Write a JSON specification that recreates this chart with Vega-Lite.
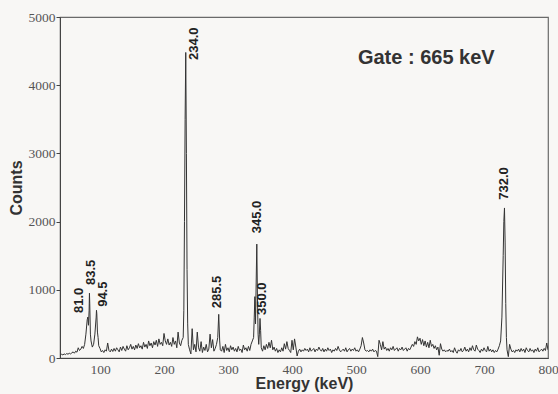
{
  "$schema": "https://vega.github.io/schema/vega-lite/v6.json",
  "width": 488,
  "height": 341,
  "autosize": {"type": "none"},
  "padding": {"left": 60, "top": 17, "right": 10, "bottom": 36},
  "background": "#f8f7f5",
  "config": {
    "view": {"stroke": "#6a6a6a", "strokeWidth": 1.2},
    "axis": {"grid": false, "domainColor": "#444", "tickColor": "#444", "labelFont": "Liberation Serif", "labelFontSize": 13.5, "labelColor": "#555", "titleFont": "Liberation Sans", "titleFontWeight": "bold", "titleColor": "#333"}
  },
  "datasets": {
    "spec": [
      {"e":38,"c":40},{"e":40,"c":55},{"e":42,"c":45},{"e":44,"c":60},{"e":46,"c":50},{"e":48,"c":65},{"e":50,"c":55},{"e":52,"c":70},{"e":54,"c":60},{"e":56,"c":75},{"e":58,"c":90},{"e":60,"c":70},{"e":62,"c":100},{"e":64,"c":85},{"e":66,"c":150},{"e":68,"c":110},{"e":70,"c":130},{"e":72,"c":170},{"e":74,"c":140},{"e":76,"c":200},{"e":78,"c":350},{"e":80,"c":560},{"e":81,"c":600},{"e":82,"c":480},{"e":83,"c":700},{"e":83.5,"c":950},{"e":84,"c":800},{"e":85,"c":350},{"e":86,"c":250},{"e":88,"c":160},{"e":90,"c":200},{"e":92,"c":350},{"e":94,"c":600},{"e":94.5,"c":700},{"e":95,"c":650},{"e":96,"c":380},{"e":97,"c":300},{"e":98,"c":180},
      {"e":100,"c":140},{"e":102,"c":90},{"e":104,"c":110},{"e":106,"c":80},{"e":108,"c":120},{"e":110,"c":100},{"e":112,"c":220},{"e":114,"c":110},{"e":116,"c":90},{"e":118,"c":130},{"e":120,"c":95},{"e":122,"c":140},{"e":124,"c":100},{"e":126,"c":150},{"e":128,"c":120},{"e":130,"c":90},{"e":132,"c":160},{"e":134,"c":110},{"e":136,"c":170},{"e":138,"c":130},{"e":140,"c":100},{"e":142,"c":180},{"e":144,"c":120},{"e":146,"c":150},{"e":148,"c":200},{"e":150,"c":130},{"e":152,"c":170},{"e":154,"c":120},{"e":156,"c":190},{"e":158,"c":140},{"e":160,"c":210},{"e":162,"c":150},{"e":164,"c":180},{"e":166,"c":130},{"e":168,"c":230},{"e":170,"c":160},{"e":172,"c":200},{"e":174,"c":140},{"e":176,"c":250},{"e":178,"c":180},{"e":180,"c":220},{"e":182,"c":150},{"e":184,"c":240},{"e":186,"c":190},{"e":188,"c":260},{"e":190,"c":170},{"e":192,"c":280},{"e":194,"c":200},{"e":196,"c":230},{"e":198,"c":180},
      {"e":200,"c":360},{"e":202,"c":250},{"e":204,"c":200},{"e":206,"c":280},{"e":208,"c":190},{"e":210,"c":230},{"e":212,"c":170},{"e":214,"c":300},{"e":216,"c":200},{"e":218,"c":250},{"e":220,"c":150},{"e":222,"c":380},{"e":224,"c":220},{"e":226,"c":180},{"e":228,"c":260},{"e":230,"c":300},{"e":231,"c":700},{"e":232,"c":2000},{"e":233,"c":3500},{"e":234,"c":4480},{"e":235,"c":3000},{"e":236,"c":1300},{"e":237,"c":500},{"e":238,"c":200},{"e":240,"c":120},{"e":242,"c":60},{"e":244,"c":430},{"e":246,"c":120},{"e":248,"c":200},{"e":250,"c":90},{"e":252,"c":380},{"e":254,"c":150},{"e":256,"c":100},{"e":258,"c":240},{"e":260,"c":80},{"e":262,"c":160},{"e":264,"c":110},{"e":266,"c":200},{"e":268,"c":90},{"e":270,"c":130},{"e":272,"c":350},{"e":274,"c":150},{"e":276,"c":270},{"e":278,"c":100},{"e":280,"c":140},{"e":282,"c":200},{"e":284,"c":300},{"e":285.5,"c":640},{"e":287,"c":250},{"e":288,"c":120},{"e":290,"c":100},{"e":292,"c":170},{"e":294,"c":80},{"e":296,"c":200},{"e":298,"c":110},
      {"e":300,"c":150},{"e":302,"c":90},{"e":304,"c":180},{"e":306,"c":120},{"e":308,"c":160},{"e":310,"c":100},{"e":312,"c":140},{"e":314,"c":90},{"e":316,"c":170},{"e":318,"c":110},{"e":320,"c":130},{"e":322,"c":80},{"e":324,"c":190},{"e":326,"c":120},{"e":328,"c":150},{"e":330,"c":100},{"e":332,"c":170},{"e":334,"c":110},{"e":336,"c":200},{"e":338,"c":250},{"e":340,"c":300},{"e":341,"c":600},{"e":342,"c":900},{"e":343,"c":500},{"e":344,"c":1100},{"e":345,"c":1670},{"e":346,"c":900},{"e":347,"c":350},{"e":348,"c":200},{"e":349,"c":350},{"e":350,"c":580},{"e":351,"c":400},{"e":352,"c":150},{"e":354,"c":100},{"e":356,"c":180},{"e":358,"c":120},{"e":360,"c":200},{"e":362,"c":140},{"e":364,"c":230},{"e":366,"c":150},{"e":368,"c":260},{"e":370,"c":120},{"e":372,"c":160},{"e":374,"c":100},{"e":376,"c":140},{"e":378,"c":80},{"e":380,"c":120},{"e":382,"c":90},{"e":384,"c":150},{"e":386,"c":100},{"e":388,"c":210},{"e":390,"c":130},{"e":392,"c":240},{"e":394,"c":140},{"e":396,"c":110},{"e":398,"c":80},
      {"e":400,"c":260},{"e":402,"c":120},{"e":404,"c":280},{"e":406,"c":160},{"e":408,"c":30},{"e":410,"c":100},{"e":412,"c":130},{"e":414,"c":90},{"e":416,"c":120},{"e":418,"c":100},{"e":420,"c":140},{"e":422,"c":110},{"e":424,"c":130},{"e":426,"c":90},{"e":428,"c":150},{"e":430,"c":100},{"e":432,"c":120},{"e":434,"c":140},{"e":436,"c":90},{"e":438,"c":130},{"e":440,"c":110},{"e":442,"c":160},{"e":444,"c":120},{"e":446,"c":100},{"e":448,"c":140},{"e":450,"c":90},{"e":452,"c":130},{"e":454,"c":100},{"e":456,"c":150},{"e":458,"c":110},{"e":460,"c":130},{"e":462,"c":80},{"e":464,"c":120},{"e":466,"c":100},{"e":468,"c":140},{"e":470,"c":110},{"e":472,"c":170},{"e":474,"c":120},{"e":476,"c":90},{"e":478,"c":110},{"e":480,"c":130},{"e":482,"c":100},{"e":484,"c":150},{"e":486,"c":90},{"e":488,"c":120},{"e":490,"c":140},{"e":492,"c":100},{"e":494,"c":130},{"e":496,"c":110},{"e":498,"c":150},
      {"e":500,"c":100},{"e":502,"c":120},{"e":504,"c":90},{"e":506,"c":130},{"e":508,"c":180},{"e":510,"c":300},{"e":512,"c":220},{"e":514,"c":120},{"e":516,"c":100},{"e":518,"c":110},{"e":520,"c":90},{"e":522,"c":120},{"e":524,"c":100},{"e":526,"c":130},{"e":528,"c":90},{"e":530,"c":110},{"e":532,"c":100},{"e":534,"c":20},{"e":536,"c":260},{"e":538,"c":200},{"e":540,"c":120},{"e":542,"c":240},{"e":544,"c":130},{"e":546,"c":160},{"e":548,"c":110},{"e":550,"c":140},{"e":552,"c":100},{"e":554,"c":150},{"e":556,"c":120},{"e":558,"c":170},{"e":560,"c":110},{"e":562,"c":130},{"e":564,"c":150},{"e":566,"c":100},{"e":568,"c":140},{"e":570,"c":120},{"e":572,"c":160},{"e":574,"c":110},{"e":576,"c":130},{"e":578,"c":150},{"e":580,"c":100},{"e":582,"c":140},{"e":584,"c":120},{"e":586,"c":160},{"e":588,"c":200},{"e":590,"c":170},{"e":592,"c":240},{"e":594,"c":200},{"e":596,"c":310},{"e":598,"c":250},
      {"e":600,"c":290},{"e":602,"c":200},{"e":604,"c":270},{"e":606,"c":180},{"e":608,"c":250},{"e":610,"c":160},{"e":612,"c":230},{"e":614,"c":150},{"e":616,"c":260},{"e":618,"c":170},{"e":620,"c":200},{"e":622,"c":140},{"e":624,"c":180},{"e":626,"c":120},{"e":628,"c":160},{"e":630,"c":40},{"e":632,"c":210},{"e":634,"c":130},{"e":636,"c":100},{"e":638,"c":120},{"e":640,"c":90},{"e":642,"c":110},{"e":644,"c":100},{"e":646,"c":130},{"e":648,"c":90},{"e":650,"c":110},{"e":652,"c":80},{"e":654,"c":150},{"e":656,"c":100},{"e":658,"c":70},{"e":660,"c":120},{"e":662,"c":100},{"e":664,"c":140},{"e":666,"c":90},{"e":668,"c":110},{"e":670,"c":160},{"e":672,"c":100},{"e":674,"c":130},{"e":676,"c":90},{"e":678,"c":150},{"e":680,"c":110},{"e":682,"c":180},{"e":684,"c":120},{"e":686,"c":100},{"e":688,"c":190},{"e":690,"c":130},{"e":692,"c":110},{"e":694,"c":80},{"e":696,"c":130},{"e":698,"c":100},
      {"e":700,"c":150},{"e":702,"c":110},{"e":704,"c":90},{"e":706,"c":170},{"e":708,"c":100},{"e":710,"c":130},{"e":712,"c":90},{"e":714,"c":120},{"e":716,"c":80},{"e":718,"c":110},{"e":720,"c":90},{"e":722,"c":130},{"e":724,"c":180},{"e":726,"c":250},{"e":728,"c":600},{"e":730,"c":1500},{"e":731,"c":2000},{"e":732,"c":2200},{"e":733,"c":1700},{"e":734,"c":800},{"e":735,"c":300},{"e":736,"c":120},{"e":738,"c":20},{"e":740,"c":200},{"e":742,"c":130},{"e":744,"c":90},{"e":746,"c":110},{"e":748,"c":80},{"e":750,"c":120},{"e":752,"c":100},{"e":754,"c":130},{"e":756,"c":90},{"e":758,"c":140},{"e":760,"c":100},{"e":762,"c":130},{"e":764,"c":80},{"e":766,"c":150},{"e":768,"c":110},{"e":770,"c":90},{"e":772,"c":140},{"e":774,"c":100},{"e":776,"c":120},{"e":778,"c":80},{"e":780,"c":130},{"e":782,"c":100},{"e":784,"c":150},{"e":786,"c":90},{"e":788,"c":110},{"e":790,"c":130},{"e":792,"c":100},{"e":794,"c":140},{"e":796,"c":110},{"e":798,"c":220},{"e":800,"c":120}
    ],
    "peaks": [
      {"label":"81.0","e":67.2,"c":660},
      {"label":"83.5","e":86,"c":1070},
      {"label":"94.5","e":104.7,"c":750},
      {"label":"234.0","e":246.9,"c":4370},
      {"label":"285.5","e":282.8,"c":730},
      {"label":"345.0","e":345.3,"c":1830},
      {"label":"350.0","e":353.1,"c":630},
      {"label":"732.0","e":731.2,"c":2320}
    ],
    "gate": [{"label":"Gate : 665 keV","e":503,"c":4400}]
  },
  "layer": [
    {
      "data": {"name": "spec"},
      "mark": {"type": "line", "color": "#333", "strokeWidth": 1, "clip": true},
      "encoding": {
        "x": {"field": "e", "type": "quantitative", "scale": {"domain": [37.5, 800], "nice": false, "zero": false},
              "axis": {"title": "Energy (keV)", "titleFontSize": 16, "titlePadding": 0, "values": [100,200,300,400,500,600,700,800], "ticks": false, "labelPadding": 4, "labelFlush": false}},
        "y": {"field": "c", "type": "quantitative", "scale": {"domain": [0, 5000], "nice": false},
              "axis": {"title": "Counts", "titleFontSize": 16, "titlePadding": 4, "values": [0,500,1000,1500,2000,2500,3000,3500,4000,4500,5000], "labelExpr": "datum.value % 1000 === 0 ? datum.label : ''", "format": "d", "tickSize": 4, "labelPadding": 1}}
      }
    },
    {
      "data": {"name": "peaks"},
      "mark": {"type": "text", "angle": 270, "align": "left", "baseline": "middle", "font": "Liberation Sans", "fontWeight": "bold", "fontSize": 13, "color": "#222"},
      "encoding": {
        "x": {"field": "e", "type": "quantitative"},
        "y": {"field": "c", "type": "quantitative"},
        "text": {"field": "label"}
      }
    },
    {
      "data": {"name": "gate"},
      "mark": {"type": "text", "align": "left", "baseline": "middle", "font": "Liberation Sans", "fontWeight": "bold", "fontSize": 20, "color": "#333"},
      "encoding": {
        "x": {"field": "e", "type": "quantitative"},
        "y": {"field": "c", "type": "quantitative"},
        "text": {"field": "label"}
      }
    }
  ]
}
